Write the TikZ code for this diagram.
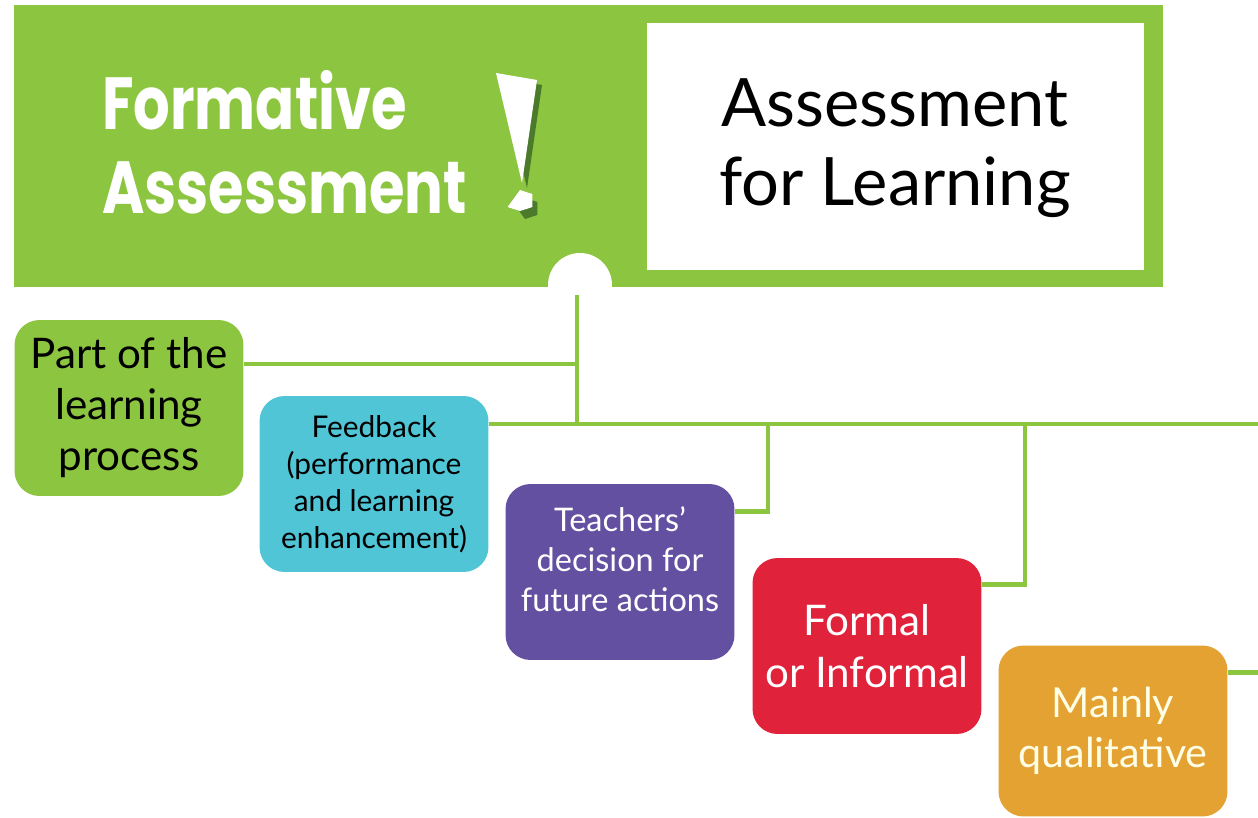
\documentclass[tikz,border=0pt]{standalone}
\usepackage{fontspec}
\usepackage{tikz}
\usetikzlibrary{calc}
\setmainfont{Lato}
\newfontfamily\headfont[FakeStretch=0.78]{Poppins}
\definecolor{leaf}{HTML}{8CC540}
\definecolor{leafdark}{HTML}{4B7A2A}
\definecolor{sky}{HTML}{4FC5D6}
\definecolor{grape}{HTML}{6350A1}
\definecolor{berry}{HTML}{E1223B}
\definecolor{amber}{HTML}{E3A232}

\begin{document}
\begin{tikzpicture}[x=0.02cm,y=-0.02cm,
  card/.style={rounded corners=0.5cm, inner sep=0pt, align=center,
    minimum width=4.58cm, minimum height=3.52cm},
  link/.style={draw=leaf, line width=2.8pt}]
\useasboundingbox (0,0) rectangle (1258,818);
\fill[leaf] (14,5) rectangle (1163,287);
\fill[white] (647,23) rectangle (1144,270);
\fill[white] (580,285) circle (0.64cm);
\node [align=center, font=\fontsize{38}{45}\selectfont] (afl) at (895,148) {Assessment\\for Learning};
\node [anchor=west, align=left, text=white, font=\headfont\bfseries\fontsize{42}{48}\selectfont] (fa) at (96,142) {Formative\\Assessment};
\fill[leafdark] (501,78) -- (542,85) -- (527,188) -- cycle;
\fill[leafdark] (525,207) ++(90:12) -- ++(-18:13) -- ++(-90:13) -- ++(-162:13) -- ++(162:13) -- cycle;
\fill[white] (496,73) -- (537,80) -- (522,183) -- cycle;
\fill[white] (520,202) ++(-90:12) -- ++(18:13) -- ++(90:13) -- ++(162:13) -- ++(-162:13) -- cycle;

\node [card, fill=leaf, font=\fontsize{24}{29}\selectfont] (part) at (129,408) {Part of the\\learning\\process};
\node [card, fill=sky, font=\fontsize{17}{21}\selectfont] (fb) at (374,484) {Feedback\\(performance\\and learning\\enhancement)};
\node [card, fill=grape, text=white, font=\fontsize{18.5}{22.7}\selectfont] (teach) at (620,572) {Teachers'\\decision for\\future actions\\[-8pt]};
\node [card, fill=berry, text=white, font=\fontsize{24}{29.5}\selectfont] (formal) at (867,646) {Formal\\or Informal};
\node [card, fill=amber, text=white!90!yellow, minimum height=3.42cm, font=\fontsize{23.5}{28.5}\selectfont] (mainly) at (1113,731) {Mainly\\qualitative};

\coordinate (top) at (577,295);
\coordinate (j1) at (577,364);
\coordinate (j2) at (577,424);
\coordinate (b1) at (768,424);
\coordinate (b2) at (1025,424);
\coordinate (edge) at (1258,424);
\coordinate (m1) at ([yshift=-0.54cm]mainly.north east);
\draw[link] (top) -- (j2);
\draw[link] (part.east |- j1) -- (j1);
\draw[link] (fb.east |- j2) -- (edge);
\draw[link] ([yshift=-0.56cm]teach.north east) -| (b1);
\draw[link] ([yshift=-0.54cm]formal.north east) -| (b2);
\draw[link] (m1) -- (m1 -| edge);

\end{tikzpicture}
\end{document}
